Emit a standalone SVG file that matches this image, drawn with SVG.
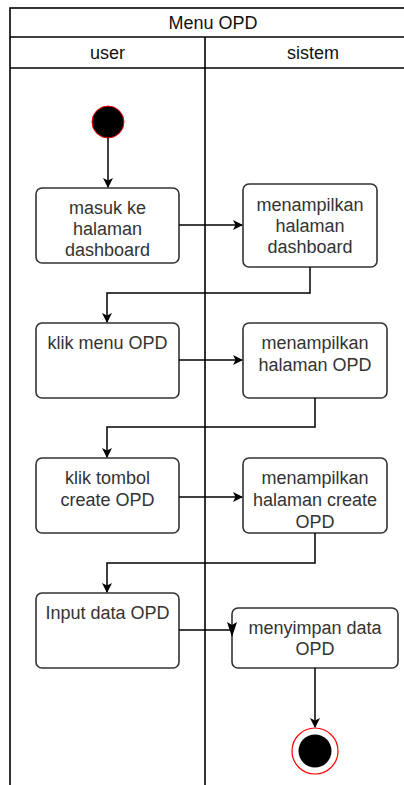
<svg xmlns="http://www.w3.org/2000/svg" width="404" height="785" viewBox="0 0 404 785">
<defs>
<style>
.pool{fill:#fff;stroke:#000;stroke-width:1.6}
.ln{fill:none;stroke:#000;stroke-width:1.6}
.box{fill:#fff;stroke:#333;stroke-width:1.6}
.t{font-family:"Liberation Sans",Arial,sans-serif;font-size:18px;fill:#333;text-anchor:middle}
.h{font-family:"Liberation Sans",Arial,sans-serif;font-size:18px;fill:#111;text-anchor:middle}
.edge{fill:none;stroke:#000;stroke-width:1.5}
</style>
<marker id="arr" markerWidth="10" markerHeight="10" refX="9" refY="5" orient="auto" markerUnits="userSpaceOnUse">
<path d="M0,0 L10,5 L0,10 L2.5,5 Z" fill="#000"/>
</marker>
</defs>
<g id="pool">
<rect class="pool" x="10" y="8" width="412" height="790"/>
<line class="ln" x1="10" y1="37" x2="422" y2="37"/>
<line class="ln" x1="10" y1="68" x2="422" y2="68"/>
<line class="ln" x1="205" y1="37" x2="205" y2="785"/>
<text class="h" x="213" y="28.5">Menu OPD</text>
<text class="h" x="107.5" y="58.5">user</text>
<text class="h" x="313" y="58.5">sistem</text>
</g>
<g id="start">
<circle cx="108" cy="122" r="16" fill="#000" stroke="#f00" stroke-width="1"/>
</g>
<g id="n1">
<rect class="box" x="36" y="188" width="143" height="75" rx="6"/>
<text class="t" x="107.5" y="214">masuk ke</text>
<text class="t" x="107.5" y="235">halaman</text>
<text class="t" x="107.5" y="256">dashboard</text>
</g>
<g id="s1">
<rect class="box" x="243" y="184" width="134" height="83" rx="6"/>
<text class="t" x="310" y="211">menampilkan</text>
<text class="t" x="310" y="232">halaman</text>
<text class="t" x="310" y="253">dashboard</text>
</g>
<g id="n2">
<rect class="box" x="36" y="323" width="143" height="75" rx="6"/>
<text class="t" x="107.5" y="349">klik menu OPD</text>
</g>
<g id="s2">
<rect class="box" x="243" y="323" width="144" height="75" rx="6"/>
<text class="t" x="315" y="349">menampilkan</text>
<text class="t" x="315" y="371">halaman OPD</text>
</g>
<g id="n3">
<rect class="box" x="36" y="458" width="143" height="75" rx="6"/>
<text class="t" x="107.5" y="484">klik tombol</text>
<text class="t" x="107.5" y="506">create OPD</text>
</g>
<g id="s3">
<rect class="box" x="243" y="458" width="144" height="75" rx="6"/>
<text class="t" x="315" y="484">menampilkan</text>
<text class="t" x="315" y="506">halaman create</text>
<text class="t" x="315" y="528">OPD</text>
</g>
<g id="n4">
<rect class="box" x="36" y="593" width="143" height="75" rx="6"/>
<text class="t" x="107.5" y="619">Input data OPD</text>
</g>
<g id="s4">
<rect class="box" x="232" y="608" width="166" height="60" rx="6"/>
<text class="t" x="315" y="634">menyimpan data</text>
<text class="t" x="315" y="655">OPD</text>
</g>
<g id="end">
<circle cx="315" cy="751" r="23" fill="#fff" stroke="#f00" stroke-width="1.2"/>
<circle cx="315" cy="751" r="16.5" fill="#000"/>
</g>
<g id="connectors">
<path class="edge" d="M108,138 V187" marker-end="url(#arr)"/>
<path class="edge" d="M179,225 H242" marker-end="url(#arr)"/>
<path class="edge" d="M310,267 V293 H107 V322" marker-end="url(#arr)"/>
<path class="edge" d="M179,360 H242" marker-end="url(#arr)"/>
<path class="edge" d="M315,398 V427 H107 V457" marker-end="url(#arr)"/>
<path class="edge" d="M179,497 H242" marker-end="url(#arr)"/>
<path class="edge" d="M315,533 V563 H107 V592" marker-end="url(#arr)"/>
<path class="edge" d="M179,630 H232"/>
<path d="M227,622 L232,637 L237,622 L232,625 Z" fill="#000"/>
<path class="edge" d="M315,668 V727" marker-end="url(#arr)"/>
</g>
</svg>
